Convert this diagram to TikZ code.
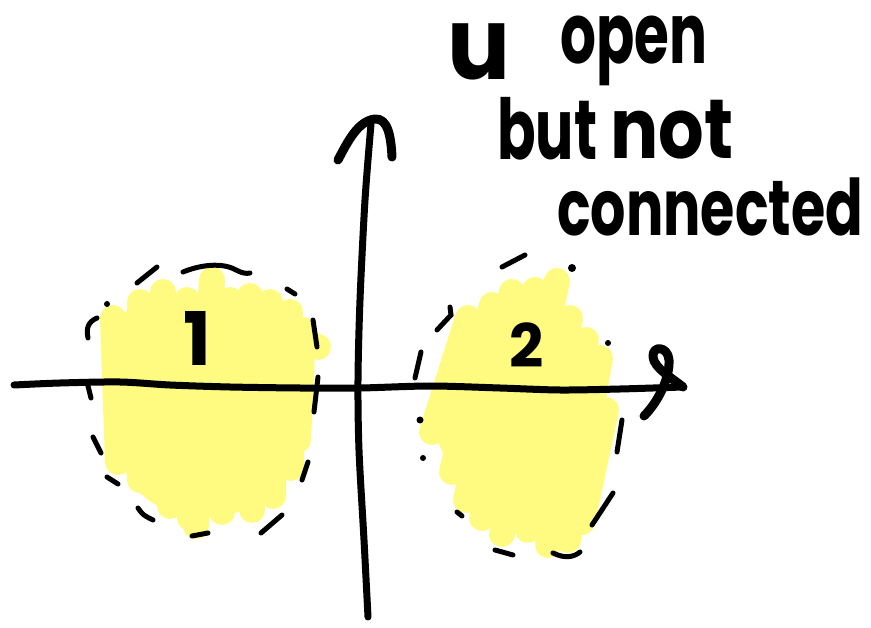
\documentclass[tikz,border=0pt]{standalone}
\usepackage{fontspec}
\setmainfont{Poppins}
\usepackage{graphicx}
\definecolor{hl}{RGB}{255,251,128}
\tikzset{
  hlstroke/.style={draw=hl, line width=26pt, line cap=round},
  dashmark/.style={draw=black, line width=5pt, line cap=round},
  dotmark/.style={fill=black},
  axisline/.style={draw=black, line width=7pt, line cap=round, line join=round},
  arrowstroke/.style={draw=black, line width=9pt, line cap=round, line join=round},
  hw/.style={inner sep=0pt, anchor=base west, font=\bfseries\fontsize{84}{84}\selectfont},
  numlabel/.style={inner sep=0pt, font=\bfseries\fontsize{#1}{#1}\selectfont},
}
\begin{document}
\begin{tikzpicture}[x=1pt,y=-1pt]
\useasboundingbox (0,0) rectangle (871,628);

% ---------- yellow region 1 ----------
\fill[hl] plot[smooth cycle] coordinates {(115,330) (160,300) (250,300) (300,330) (300,450) (260,505) (180,515) (125,470)};
\draw[hlstroke] (113,318) -- (118,462);
\draw[hlstroke] (140,302) -- (140,480);
\draw[hlstroke] (163,292) -- (170,506);
\draw[hlstroke] (187,300) -- (190,518);
\draw[hlstroke] (212,280) -- (196,526);
\draw[hlstroke] (230,300) -- (222,512);
\draw[hlstroke] (250,296) -- (252,510);
\draw[hlstroke] (270,302) -- (273,496);
\draw[hlstroke] (290,312) -- (291,468);
\draw[hlstroke] (303,330) -- (298,440);
\draw[hlstroke] (312,345) -- (318,347);

% ---------- yellow region 2 ----------
\fill[hl] plot[smooth cycle] coordinates {(470,330) (530,300) (585,340) (605,420) (585,520) (520,530) (460,480) (435,420)};
\draw[hlstroke] (468,318) -- (432,432);
\draw[hlstroke] (492,305) -- (452,472);
\draw[hlstroke] (512,292) -- (466,500);
\draw[hlstroke] (535,290) -- (482,518);
\draw[hlstroke] (557,281) -- (502,534);
\draw[hlstroke] (570,318) -- (528,530);
\draw[hlstroke] (586,340) -- (548,545);
\draw[hlstroke] (600,358) -- (568,540);
\draw[hlstroke] (606,410) -- (582,522);

% ---------- axes ----------
\coordinate (xstart) at (14,385);
\coordinate (xtip) at (683,387);
\coordinate (ybot) at (368,617);
\coordinate (ytip) at (371,124);
\draw[axisline] plot[smooth] coordinates {(14,385) (60,383) (120,382) (170,385) (230,387) (300,388) (360,388) (430,386) (500,388) (560,390) (620,389) (683,387)};
\draw[arrowstroke] (xtip) .. controls (672,378) and (654,368) .. (653,357)
  .. controls (652,345) and (668,346) .. (669,360)
  .. controls (670,378) and (658,402) .. (644,416);
\draw[axisline] plot[smooth] coordinates {(368,617) (364,540) (359,450) (358,380) (360,300) (365,200) (371,124)};
\draw[arrowstroke] (338,160) .. controls (348,141) and (358,121) .. (375,119)
  .. controls (388,118) and (391,137) .. (392,157);

% ---------- dashed outline 1 ----------
\draw[dashmark] (137,283) -- (157,267);
\draw[dashmark] (183,272) .. controls (200,265) and (222,262) .. (236,270) .. controls (242,273) and (246,274) .. (250,273);
\draw[dashmark] (287,289) -- (295,294);
\draw[dashmark] (313,320) -- (317,347);
\draw[dashmark] (318,377) -- (314,412);
\draw[dashmark] (308,462) -- (302,480);
\draw[dashmark] (282,515) -- (261,533);
\draw[dashmark] (192,536) -- (208,533);
\draw[dashmark] (138,508) .. controls (143,515) .. (153,520);
\draw[dashmark] (107,477) -- (118,484);
\draw[dashmark] (93,437) -- (101,453);
\draw[dashmark] (87,382) -- (91,398);
\draw[dashmark] (97,318) .. controls (88,322) and (86,328) .. (88,338);
\fill[dotmark] (107,304) circle (3pt);

% ---------- dashed outline 2 ----------
\draw[dashmark] (502,267) -- (525,255);
\fill[dotmark] (572,268) circle (4pt);
\draw[dashmark] (437,330) -- (451,315) -- (450,307);
\draw[dashmark] (421,352) -- (415,378);
\fill[dotmark] (420,420) circle (3.5pt);
\fill[dotmark] (423,458) circle (3pt);
\draw[dashmark] (457,512) -- (462,516);
\draw[dashmark] (495,550) -- (513,555);
\draw[dashmark] (553,553) .. controls (565,559) and (574,557) .. (580,552);
\draw[dashmark] (592,525) -- (613,493);
\draw[dashmark] (622,420) -- (617,452);
\fill[dotmark] (608,343) circle (3pt);

% ---------- labels ----------
\node[numlabel=74] (one) at (197,338) {1};
\node[numlabel=60] (two) at (527,345) {2};

\node[hw, font=\bfseries\fontsize{100}{100}\selectfont] (u) at (447,80) {\resizebox{63pt}{\height}{u}};
\node[hw] (open) at (560,64) {\resizebox{147pt}{\height}{open}};
\node[hw] (but) at (497,160) {\resizebox{100pt}{\height}{but}};
\node[hw] (not) at (610,159) {\resizebox{123pt}{\height}{not}};
\node[hw, font=\bfseries\fontsize{78}{78}\selectfont] (conn) at (557,236) {\resizebox{306pt}{\height}{connected}};
\end{tikzpicture}
\end{document}
